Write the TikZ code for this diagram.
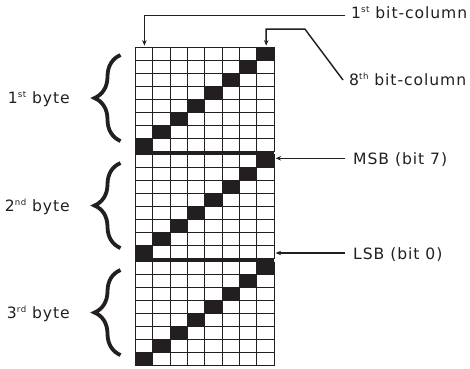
\documentclass[tikz,border=0pt]{standalone}
\usepackage{fontspec}
\setmainfont{DejaVu Sans}[LetterSpace=6]
\usetikzlibrary{decorations.pathreplacing,arrows.meta,calc}
\definecolor{ink}{RGB}{35,31,32}
\newcommand{\sups}[1]{\raisebox{5.9pt}{\fontsize{8.6}{8.6}\selectfont #1}}
\begin{document}
\begin{tikzpicture}[x=1pt,y=-1pt,
  lbl/.style={font=\fontsize{15.6}{15.6}\selectfont, text=ink, inner sep=0pt},
  conn/.style={draw=ink, line width=1.45pt, -{Stealth[length=5.5pt,width=4.5pt]}},
  gridline/.style={draw=ink, line width=1.1pt},
  bytebrace/.style={draw=ink, line width=3.8pt, decorate, decoration={brace, amplitude=26pt}}
]
\useasboundingbox (0,0) rectangle (470,368);
% grid
\foreach \T in {47.3,154.4,261.5}{
  \foreach \r in {1,...,8}{
    \fill[ink] ({135.3+(8-\r)*17.375},{\T+(\r-1)*13.05}) rectangle ++(17.375,13.05);
  }
  \foreach \k in {0,...,8}{
    \draw[gridline] (135.3,{\T+\k*13.05}) -- ++(139,0);
  }
  \foreach \j in {0,...,8}{
    \draw[gridline] ({135.3+\j*17.375},\T) -- ++(0,104.4);
  }
}
\fill[ink] (135.3,151.7) rectangle (274.3,154.4);
\fill[ink] (135.3,258.8) rectangle (274.3,261.5);
% right labels
\node[lbl, anchor=base west] (c1) at (351,18) {1\sups{st} bit-column};
\node[lbl, anchor=base west] (c8) at (349,85) {8\sups{th} bit-column};
\node[lbl, anchor=base west] (msb) at (353,164) {MSB (bit 7)};
\node[lbl, anchor=base west] (lsb) at (353,259) {LSB (bit 0)};
\coordinate (t1) at (144.4,45.6);
\coordinate (t8) at (266.2,45.6);
\coordinate (tm) at (275.6,158.3);
\coordinate (tl) at (275.6,253);
\draw[conn] ($(c1.base west)+(-6,-2.3)$) -| (t1);
\draw[conn] ($(c8.base west)+(-6,-5)$) -- (305,29.2) -| (t8);
\draw[conn] ($(msb.base west)+(-8,-5.7)$) -- (tm);
\draw[conn] ($(lsb.base west)+(-8,-6)$) -- (tl);
% left labels and braces
\node[lbl, anchor=base east] (b1) at (70,103.5) {1\sups{st} byte};
\node[lbl, anchor=base east] (b2) at (70,211) {2\sups{nd} byte};
\node[lbl, anchor=base east] (b3) at (70,318.5) {3\sups{rd} byte};
\draw[bytebrace] (120.5,141) -- (120.5,55);
\draw[bytebrace] (120.5,248) -- (120.5,163);
\draw[bytebrace] (120.5,355) -- (120.5,270);
\end{tikzpicture}
\end{document}
